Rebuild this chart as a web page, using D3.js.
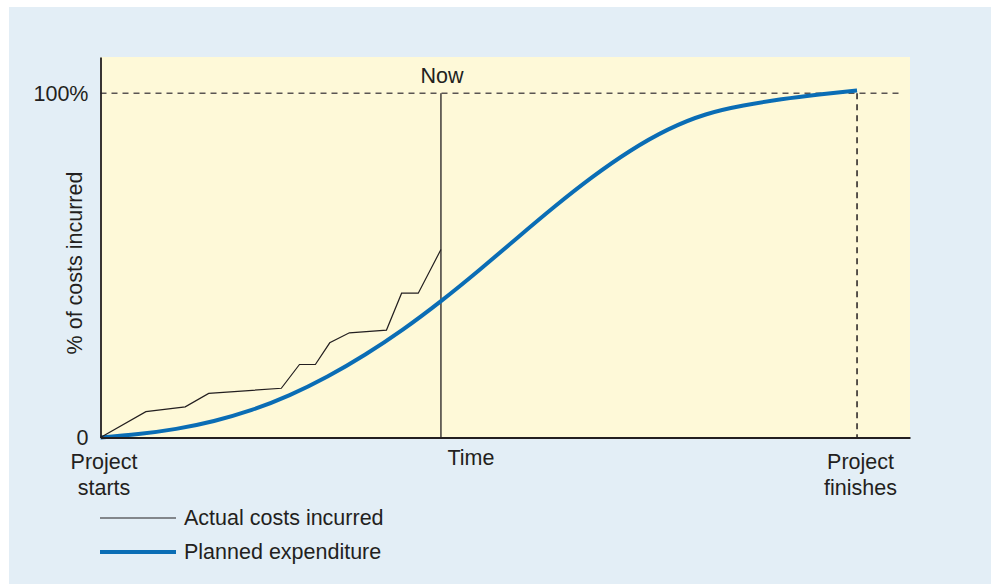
<!DOCTYPE html>
<html>
<head>
<meta charset="utf-8">
<script src="https://cdn.jsdelivr.net/npm/d3@7"></script>
<style>
  html, body { margin: 0; padding: 0; background: #ffffff; }
  svg { display: block; font-family: "Liberation Sans", Arial, Helvetica, sans-serif; }
</style>
</head>
<body>
<svg id="chart" width="991" height="584"></svg>
<script>
// Time is expressed as % of the planned project duration (100 = finish)
const actualTime = [0, 6.0, 11.2, 14.3, 23.9, 26.3, 28.4, 30.3, 32.9, 37.8, 39.8, 42.0, 45];
const actualCost = [0, 7.5, 8.9, 12.8, 14.3, 21.2, 21.2, 27.5, 30.4, 31.2, 41.9, 41.9, 54.6];

const plannedTime = [0, 5, 10, 15, 20, 25, 30, 35, 40, 45, 50, 55, 60, 65, 70, 75, 80, 85, 90, 95, 100];
const plannedCost = [0, 1.0, 2.5, 4.8, 8.0, 12.3, 17.7, 24.1, 31.4, 39.6, 48.5, 57.8, 67.0, 75.6, 83.2, 89.4, 93.8, 96.4, 98.2, 99.6, 100.8];

const nowTime = 45;
const finishTime = 100;
const fullCost = 100;

const yTickValues = [0, 100];
const yTickLabels = ["0", "100%"];
const xTickValues = [0, 100];
const xTickLabels = [["Project", "starts"], ["Project", "finishes"]];
const seriesNames = ["Actual costs incurred", "Planned expenditure"];

const ink = "#231f20";
const blue = "#0a6db5";
const fontSize = 21.5;

const svg = d3.select("#chart");

// page background and plot panel
svg.append("rect").attr("x", 9).attr("y", 7).attr("width", 982).attr("height", 577).attr("fill", "#e3eef6");

const x = d3.scaleLinear().domain([0, 107]).range([100.5, 910]);
const y = d3.scaleLinear().domain([0, 110.5]).range([437.5, 57]);

svg.append("rect")
  .attr("x", x(0)).attr("y", y(110.5))
  .attr("width", x(107) - x(0)).attr("height", y(0) - y(110.5))
  .attr("fill", "#fef9d8");

// 100% reference and project-finish guide lines
svg.append("line")
  .attr("x1", x(0)).attr("x2", 902)
  .attr("y1", y(fullCost)).attr("y2", y(fullCost))
  .attr("stroke", "#5a5552").attr("stroke-width", 1.5).attr("stroke-dasharray", "6,5");
svg.append("line")
  .attr("x1", x(finishTime)).attr("x2", x(finishTime))
  .attr("y1", y(fullCost)).attr("y2", y(0))
  .attr("stroke", ink).attr("stroke-width", 1.5).attr("stroke-dasharray", "6,5");

// "Now" marker
svg.append("line")
  .attr("x1", x(nowTime)).attr("x2", x(nowTime))
  .attr("y1", y(fullCost)).attr("y2", y(0))
  .attr("stroke", ink).attr("stroke-width", 1.3);
svg.append("text")
  .attr("x", x(nowTime) + 1).attr("y", 83)
  .attr("text-anchor", "middle").attr("font-size", fontSize).attr("fill", ink)
  .text("Now");

// series
const actual = actualTime.map((t, i) => [t, actualCost[i]]);
const planned = plannedTime.map((t, i) => [t, plannedCost[i]]);

svg.append("path")
  .datum(planned)
  .attr("d", d3.line().x(d => x(d[0])).y(d => y(d[1])).curve(d3.curveNatural))
  .attr("fill", "none").attr("stroke", blue).attr("stroke-width", 4).attr("stroke-linecap", "butt");

svg.append("path")
  .datum(actual)
  .attr("d", d3.line().x(d => x(d[0])).y(d => y(d[1])))
  .attr("fill", "none").attr("stroke", ink).attr("stroke-width", 1.2).attr("stroke-linejoin", "miter");

// axes
const yAxis = svg.append("g")
  .attr("transform", `translate(${x(0)},0)`)
  .call(d3.axisLeft(y).tickValues(yTickValues).tickSize(0).tickSizeOuter(0).tickPadding(12)
    .tickFormat((d, i) => yTickLabels[i]));
yAxis.select(".domain").attr("stroke", ink).attr("stroke-width", 1.8);
yAxis.selectAll("text").attr("font-size", fontSize).attr("fill", ink).attr("font-family", "Liberation Sans, Arial, sans-serif");

const xAxis = svg.append("g")
  .attr("transform", `translate(0,${y(0)})`)
  .call(d3.axisBottom(x).tickValues(xTickValues).tickSize(0).tickSizeOuter(0).tickFormat(""));
xAxis.select(".domain").attr("stroke", ink).attr("stroke-width", 1.8);
xAxis.selectAll(".tick").each(function(d, i) {
  const t = d3.select(this).select("text")
    .attr("y", 0).attr("dy", null)
    .attr("font-size", fontSize).attr("fill", ink)
    .attr("font-family", "Liberation Sans, Arial, sans-serif");
  xTickLabels[i].forEach((line, k) => {
    t.append("tspan").attr("x", 3).attr("y", 31 + k * 26).text(line);
  });
});

// axis titles
svg.append("text")
  .attr("x", 471).attr("y", 465)
  .attr("text-anchor", "middle").attr("font-size", fontSize).attr("fill", ink)
  .text("Time");
svg.append("text")
  .attr("transform", "translate(82,263) rotate(-90)")
  .attr("text-anchor", "middle").attr("font-size", fontSize).attr("fill", ink)
  .text("% of costs incurred");

// legend
const legend = svg.append("g").attr("transform", "translate(100,0)");
const legendRows = [
  { name: seriesNames[0], color: ink, width: 1.2, y: 518 },
  { name: seriesNames[1], color: blue, width: 4, y: 552 }
];
legendRows.forEach(r => {
  legend.append("line")
    .attr("x1", 0).attr("x2", 76).attr("y1", r.y).attr("y2", r.y)
    .attr("stroke", r.color).attr("stroke-width", r.width);
  legend.append("text")
    .attr("x", 84).attr("y", r.y + 7)
    .attr("font-size", fontSize).attr("fill", ink)
    .text(r.name);
});
</script>
</body>
</html>
